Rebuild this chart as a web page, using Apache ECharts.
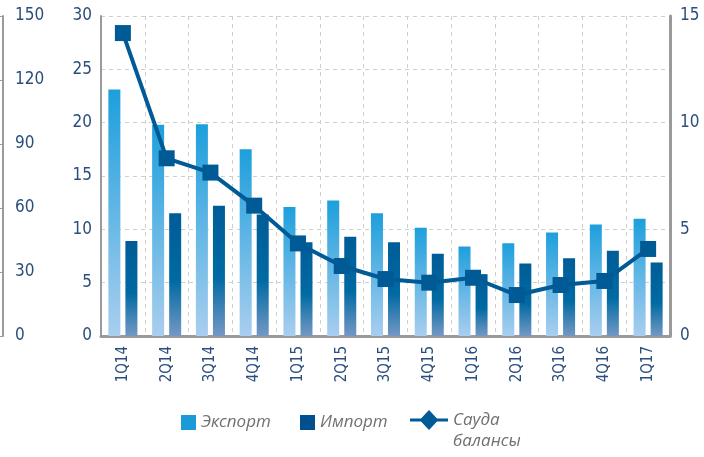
<!DOCTYPE html>
<html>
<head>
<meta charset="utf-8">
<script src="https://cdn.jsdelivr.net/npm/echarts@6/dist/echarts.min.js"></script>
<style>
  html, body { margin: 0; padding: 0; background: #fff; }
  #chart { width: 704px; height: 457px; }
</style>
</head>
<body>
<div id="chart"></div>
<script>
var quarters = ['1Q14', '2Q14', '3Q14', '4Q14', '1Q15', '2Q15', '3Q15', '4Q15', '1Q16', '2Q16', '3Q16', '4Q16', '1Q17'];
var exportData = [23.1, 19.8, 19.85, 17.5, 12.1, 12.7, 11.5, 10.15, 8.4, 8.7, 9.7, 10.45, 11.0];
var importData = [8.9, 11.5, 12.2, 11.4, 8.8, 9.3, 8.8, 7.7, 5.8, 6.8, 7.3, 8.0, 6.9];
var balanceData = [14.2, 8.33, 7.66, 6.11, 4.34, 3.28, 2.67, 2.5, 2.73, 1.92, 2.39, 2.58, 4.08];

var numFont = "'DejaVu Sans Condensed', 'Liberation Sans Narrow', sans-serif";
var labelColor = '#2b4e7c';
var axisGray = '#9a9a9a';

var myChart = echarts.init(document.getElementById('chart'));

var legendText = {
    fontFamily: "'Open Sans', sans-serif",
    fontStyle: 'italic',
    fontSize: 17,
    color: '#707070',
    lineHeight: 21
};

var option = {
    animation: false,
    grid: { left: 101, right: 34, top: 16, bottom: 121 },
    legend: [
        { left: 181, top: 412, padding: 0, itemWidth: 15, itemHeight: 15, itemGap: 0, itemTextGap: 7, textStyle: legendText,
          data: [{ name: 'Экспорт', icon: 'rect', itemStyle: { color: '#1a9ad8' } }] },
        { left: 300, top: 412, padding: 0, itemWidth: 15, itemHeight: 15, itemGap: 0, itemTextGap: 9, textStyle: legendText,
          data: [{ name: 'Импорт', icon: 'rect', itemStyle: { color: '#00508f' } }] },
        { left: 410, top: 410, padding: 0, itemWidth: 38, itemHeight: 42, itemGap: 0, itemTextGap: 8, textStyle: legendText,
          data: [{ name: 'Сауда\nбалансы',
                   // diamond on a line in the upper half; the tiny mark at the bottom only stretches the box
                   icon: 'path://M0,8.5 L11,8.5 L19,0 L27,8.5 L38,8.5 L38,11.5 L27,11.5 L19,20 L11,11.5 L0,11.5 Z M0,42 L0.01,42 L0,41.99 Z',
                   itemStyle: { color: '#005a96' } }] }
    ],
    xAxis: {
        type: 'category',
        data: quarters,
        axisLine: { lineStyle: { color: axisGray, width: 3 } },
        axisTick: { show: false },
        splitLine: { show: true, lineStyle: { color: '#cfcfcf', type: [4, 4] } },
        axisLabel: {
            rotate: 90, margin: 10, interval: 0,
            fontFamily: numFont, fontSize: 15, color: labelColor
        }
    },
    yAxis: [
        {
            type: 'value', min: 0, max: 30, interval: 5, position: 'left',
            axisLine: { show: true, lineStyle: { color: axisGray, width: 2 } },
            axisTick: { show: false },
            splitLine: { show: true, lineStyle: { color: '#cfcfcf', type: [4, 4] } },
            axisLabel: { margin: 9, fontFamily: numFont, fontSize: 17, color: labelColor }
        },
        {
            type: 'value', min: 0, max: 150, interval: 30, position: 'left', offset: 98,
            axisLine: { show: true, lineStyle: { color: axisGray, width: 2 } },
            axisTick: { show: true, length: 3, lineStyle: { color: axisGray } },
            splitLine: { show: false },
            axisLabel: { inside: true, margin: 12, fontFamily: numFont, fontSize: 17, color: labelColor }
        },
        {
            type: 'value', min: 0, max: 15, interval: 5, position: 'right',
            axisLine: { show: true, lineStyle: { color: axisGray, width: 3 } },
            axisTick: { show: false },
            splitLine: { show: false },
            axisLabel: { margin: 10, fontFamily: numFont, fontSize: 17, color: labelColor }
        }
    ],
    series: [
        {
            name: 'Экспорт', type: 'bar', data: exportData,
            barWidth: 12, barGap: '42%',
            itemStyle: {
                color: new echarts.graphic.LinearGradient(0, 0, 0, 1, [
                    { offset: 0, color: '#1d9fdc' },
                    { offset: 1, color: '#a9ceef' }
                ])
            }
        },
        {
            name: 'Импорт', type: 'bar', data: importData,
            barWidth: 12,
            itemStyle: {
                color: new echarts.graphic.LinearGradient(0, 0, 0, 1, [
                    { offset: 0, color: '#005c97' },
                    { offset: 0.55, color: '#006aa3' },
                    { offset: 1, color: '#7498c4' }
                ])
            }
        },
        {
            name: 'Сауда\nбалансы', type: 'line', yAxisIndex: 2, data: balanceData,
            symbol: 'rect', symbolSize: 16,
            lineStyle: { color: '#005a96', width: 4 },
            itemStyle: { color: '#005a96' },
            z: 5
        }
    ]
};

myChart.setOption(option);
</script>
</body>
</html>
